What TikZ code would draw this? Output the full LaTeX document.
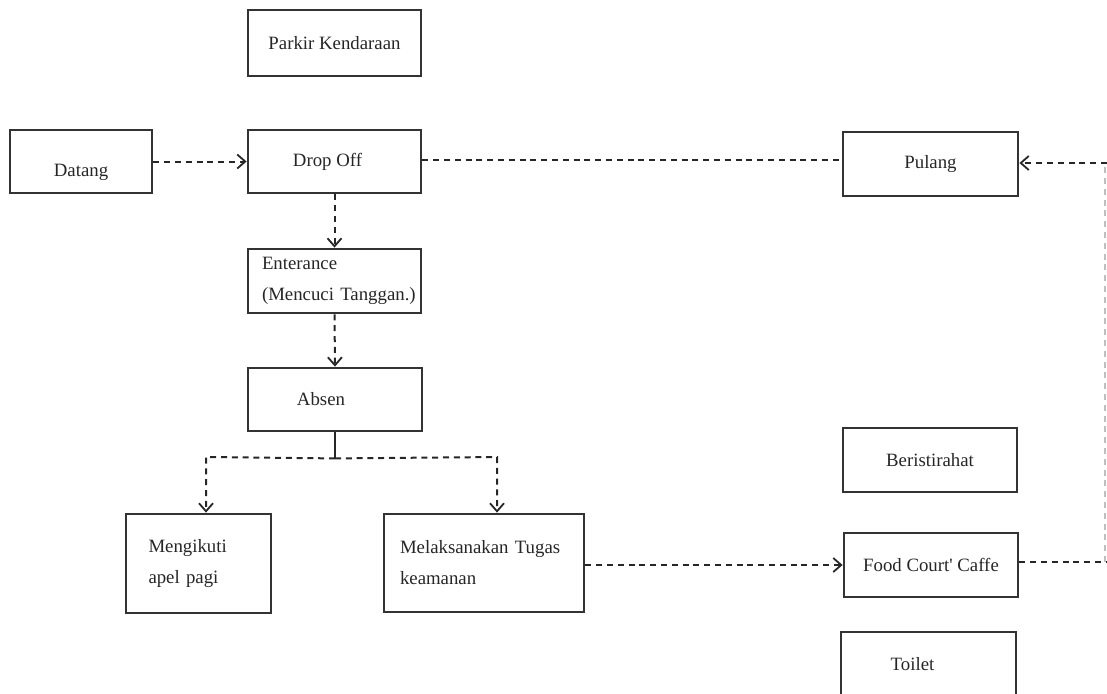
\documentclass[tikz,border=0pt]{standalone}
\usepackage{fontspec}
\setmainfont{Liberation Serif}
\usetikzlibrary{arrows.meta,calc}

\tikzset{
  box/.style={draw=black!80, line width=1.4pt, rectangle, inner sep=0pt,
    font=\fontsize{9.4}{15.5}\selectfont, text=black!85},
  lbox/.style={box, align=left},
  flow/.style={draw=black!85, line width=1pt, dash pattern=on 3pt off 2.4pt,
    -{Straight Barb[length=4pt,width=7pt,line width=0.9pt]}},
  link/.style={draw=black!85, line width=1pt, dash pattern=on 3pt off 2.4pt},
  faint/.style={draw=black!25, line width=0.8pt, dash pattern=on 3pt off 2.4pt},
  stem/.style={draw=black!85, line width=1pt}
}

\begin{document}
\begin{tikzpicture}[x=0.5pt, y=-0.5pt]
  \useasboundingbox (0,0) rectangle (1107,693);
  \clip (0,0) rectangle (1107,693);

  % boxes
  \node[box, minimum width=86.5pt, minimum height=33pt] (park) at (334.5,43) {Parkir Kendaraan};
  \node[box, minimum width=71pt, minimum height=31.5pt] (datang) at (81,161.5) {\raisebox{-7.3pt}[0pt][0pt]{Datang}};
  \node[box, minimum width=86.5pt, minimum height=31.5pt] (drop) at (334.5,161.5) {Drop Off\hspace*{7pt}};
  \node[box, minimum width=87.5pt, minimum height=32pt] (pulang) at (930.5,164) {Pulang};
  \node[lbox, minimum width=86.5pt, minimum height=32pt, text width=82pt, inner xsep=2.25pt] (enter) at (334.5,281)
    {\hspace*{4.75pt}\mbox{Enterance}\\\hspace*{4.75pt}\mbox{(Mencuci Tanggan.)}};
  \node[box, minimum width=87pt, minimum height=31.5pt] (absen) at (335,399.5) {Absen\hspace*{14pt}};
  \node[lbox, minimum width=72.5pt, minimum height=49.5pt, text width=61pt, inner xsep=5.75pt] (meng) at (198.5,563.5)
    {\hspace*{5.5pt}Mengikuti\\\hspace*{5.5pt}apel pagi};
  \node[lbox, minimum width=100pt, minimum height=49pt, text width=92pt, inner xsep=4pt] (mela) at (484,563)
    {\hspace*{4pt}\mbox{Melaksanakan Tugas}\\\hspace*{4pt}keamanan};
  \node[box, minimum width=87pt, minimum height=32pt] (rest) at (930,460) {Beristirahat};
  \node[box, minimum width=87pt, minimum height=32pt] (food) at (931,565) {Food Court\textquotesingle\ Caffe};
  \node[box, minimum width=87.5pt, minimum height=32pt] (toilet) at (928.5,664) {Toilet\hspace*{16pt}};

  % helper points
  \coordinate (br) at ($(absen.south)+(0,26)$);
  \coordinate (ml) at (206,457);
  \coordinate (mr) at (497,457);
  \coordinate (rb) at (1107,562);
  \coordinate (rbv) at (1105,562);
  \coordinate (rt) at (1107,163);
  \coordinate (rtv) at (1105,163);

  % connectors
  \draw[flow] (datang.east) -- (drop.west);
  \draw[link] ($(drop.east)+(0,-2)$) -- ($(drop.east -| pulang.west)+(0,-2)$);
  \draw[flow] (drop.south) -- (enter.north);
  \draw[flow] (enter.south) -- (absen.north);
  \draw[stem] (absen.south) -- (br);
  \draw[flow] (br) -- (ml) -- (ml |- meng.north);
  \draw[flow] (br) -- (mr) -- (mr |- mela.north);
  \draw[flow] (mela.east |- food.west) -- (food.west);
  \draw[link] ($(food.east)+(0,-3)$) -- (rb);
  \draw[faint] (rbv) -- (rtv);
  \draw[flow] (rt) -- (rt -| pulang.east);
\end{tikzpicture}
\end{document}
